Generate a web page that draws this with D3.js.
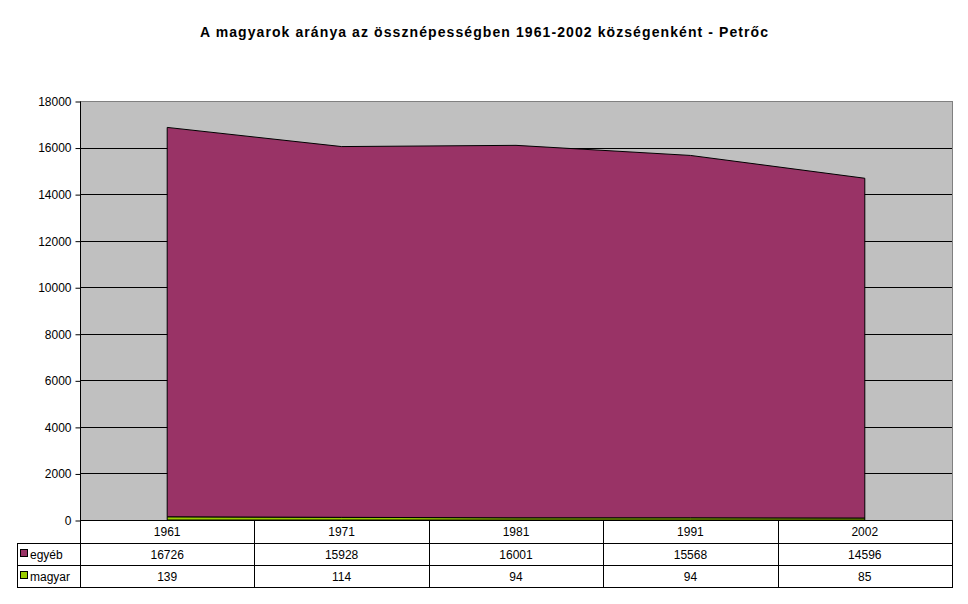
<!DOCTYPE html>
<html>
<head>
<meta charset="utf-8">
<script src="https://cdn.jsdelivr.net/npm/d3@7"></script>
<style>
  body { margin: 0; background: #fff; }
  svg { font-family: Arial, "Liberation Sans", sans-serif; }
</style>
</head>
<body>
<div class="chart"></div>
<script>
// data
const years = ["1961", "1971", "1981", "1991", "2002"];
const egyeb = [16726, 15928, 16001, 15568, 14596];
const magyar = [139, 114, 94, 94, 85];
const yTicks = [0, 2000, 4000, 6000, 8000, 10000, 12000, 14000, 16000, 18000];

const width = 968;
const height = 604;
const plot = { left: 80, right: 952, top: 101, bottom: 520 };

const svg = d3
  .select(".chart")
  .append("svg")
  .attr("width", width)
  .attr("height", height);

// title
svg
  .append("text")
  .attr("x", 484)
  .attr("y", 37)
  .attr("text-anchor", "middle")
  .attr("textLength", 568)
  .attr("lengthAdjust", "spacing")
  .style("font-weight", "bold")
  .style("font-size", "14px")
  .text("A magyarok aránya az össznépességben 1961-2002 községenként - Petrőc");

const x = d3.scaleBand().domain(years).range([plot.left, plot.right]);
const y = d3.scaleLinear().domain([0, 18000]).range([plot.bottom, plot.top]);

// gray plot background
svg
  .append("rect")
  .attr("x", plot.left)
  .attr("y", plot.top)
  .attr("width", plot.right - plot.left)
  .attr("height", plot.bottom - plot.top)
  .attr("fill", "#c0c0c0");

// gridlines
svg
  .selectAll(".grid")
  .data(yTicks.filter((d) => d > 0 && d < 18000))
  .join("line")
  .attr("x1", plot.left)
  .attr("x2", plot.right)
  .attr("y1", (d) => Math.round(y(d)) + 0.5)
  .attr("y2", (d) => Math.round(y(d)) + 0.5)
  .attr("stroke", "#000");

// stacked areas
const rows = years.map((yr, i) => ({ year: yr, "egyéb": egyeb[i], magyar: magyar[i] }));
const stack = d3.stack().keys(["magyar", "egyéb"]);
const stacked = stack(rows);
const colors = { "egyéb": "#993366", magyar: "#99cc00" };

const cx = (d) => x(d.data.year) + x.bandwidth() / 2;
const area = d3
  .area()
  .x(cx)
  .y0((d) => y(d[0]))
  .y1((d) => y(d[1]));

svg
  .selectAll(".layer")
  .data(stacked)
  .join("path")
  .attr("d", (d) => area(d) + "Z")
  .attr("fill", (d) => colors[d.key])
  .attr("stroke", "#000")
  .attr("stroke-width", 1)
  .attr("stroke-linejoin", "round");

// plot border (gray)
svg
  .append("rect")
  .attr("x", plot.left + 0.5)
  .attr("y", plot.top + 0.5)
  .attr("width", plot.right - plot.left)
  .attr("height", plot.bottom - plot.top)
  .attr("fill", "none")
  .attr("stroke", "#808080");

// y axis
const yAxis = d3
  .axisLeft(y)
  .tickValues(yTicks)
  .tickSize(5)
  .tickPadding(4)
  .tickFormat(d3.format("d"));

svg
  .append("g")
  .attr("transform", `translate(${plot.left + 0.5},0.5)`)
  .call(yAxis)
  .call((g) => g.select(".domain").attr("d", `M0,${plot.top}V${plot.bottom}`))
  .call((g) => g.selectAll("text").style("font-size", "12px").style("font-family", "Arial, 'Liberation Sans', sans-serif").attr("fill", "#000"))
  .call((g) => g.selectAll("line").attr("stroke", "#000"));

// x axis line
svg
  .append("line")
  .attr("x1", plot.left)
  .attr("x2", plot.right + 1)
  .attr("y1", plot.bottom + 0.5)
  .attr("y2", plot.bottom + 0.5)
  .attr("stroke", "#000");

// data table
const rowH = 22;
const tableTop = plot.bottom;
const legendLeft = 17;
const table = svg.append("g").attr("class", "table");

// horizontal lines
[1, 2, 3].forEach((r) => {
  table
    .append("line")
    .attr("x1", legendLeft)
    .attr("x2", plot.right + 1)
    .attr("y1", tableTop + r * rowH + 1.5)
    .attr("y2", tableTop + r * rowH + 1.5)
    .attr("stroke", "#000");
});

// vertical lines
const vx = years.map((d) => x(d)).concat([plot.right]);
vx.forEach((v) => {
  table
    .append("line")
    .attr("x1", Math.round(v) + 0.5)
    .attr("x2", Math.round(v) + 0.5)
    .attr("y1", tableTop)
    .attr("y2", tableTop + 3 * rowH + 2)
    .attr("stroke", "#000");
});
table
  .append("line")
  .attr("x1", legendLeft + 0.5)
  .attr("x2", legendLeft + 0.5)
  .attr("y1", tableTop + rowH + 1)
  .attr("y2", tableTop + 3 * rowH + 2)
  .attr("stroke", "#000");

// header row
table
  .selectAll(".yr")
  .data(years)
  .join("text")
  .attr("x", (d) => x(d) + x.bandwidth() / 2)
  .attr("y", tableTop + 16)
  .attr("text-anchor", "middle")
  .style("font-size", "12px")
  .text((d) => d);

const tableSeries = [
  { name: "egyéb", values: egyeb },
  { name: "magyar", values: magyar },
];

tableSeries.forEach((s, r) => {
  const ty = tableTop + (r + 1) * rowH + 17;
  table
    .append("rect")
    .attr("x", 20.5)
    .attr("y", ty - 9.5)
    .attr("width", 7)
    .attr("height", 7)
    .attr("fill", colors[s.name])
    .attr("stroke", "#000");
  table
    .append("text")
    .attr("x", 30)
    .attr("y", ty)
    .style("font-size", "12px")
    .text(s.name);
  table
    .selectAll(".v" + r)
    .data(s.values)
    .join("text")
    .attr("x", (d, i) => x(years[i]) + x.bandwidth() / 2)
    .attr("y", ty)
    .attr("text-anchor", "middle")
    .style("font-size", "12px")
    .text((d) => d);
});
</script>
</body>
</html>
